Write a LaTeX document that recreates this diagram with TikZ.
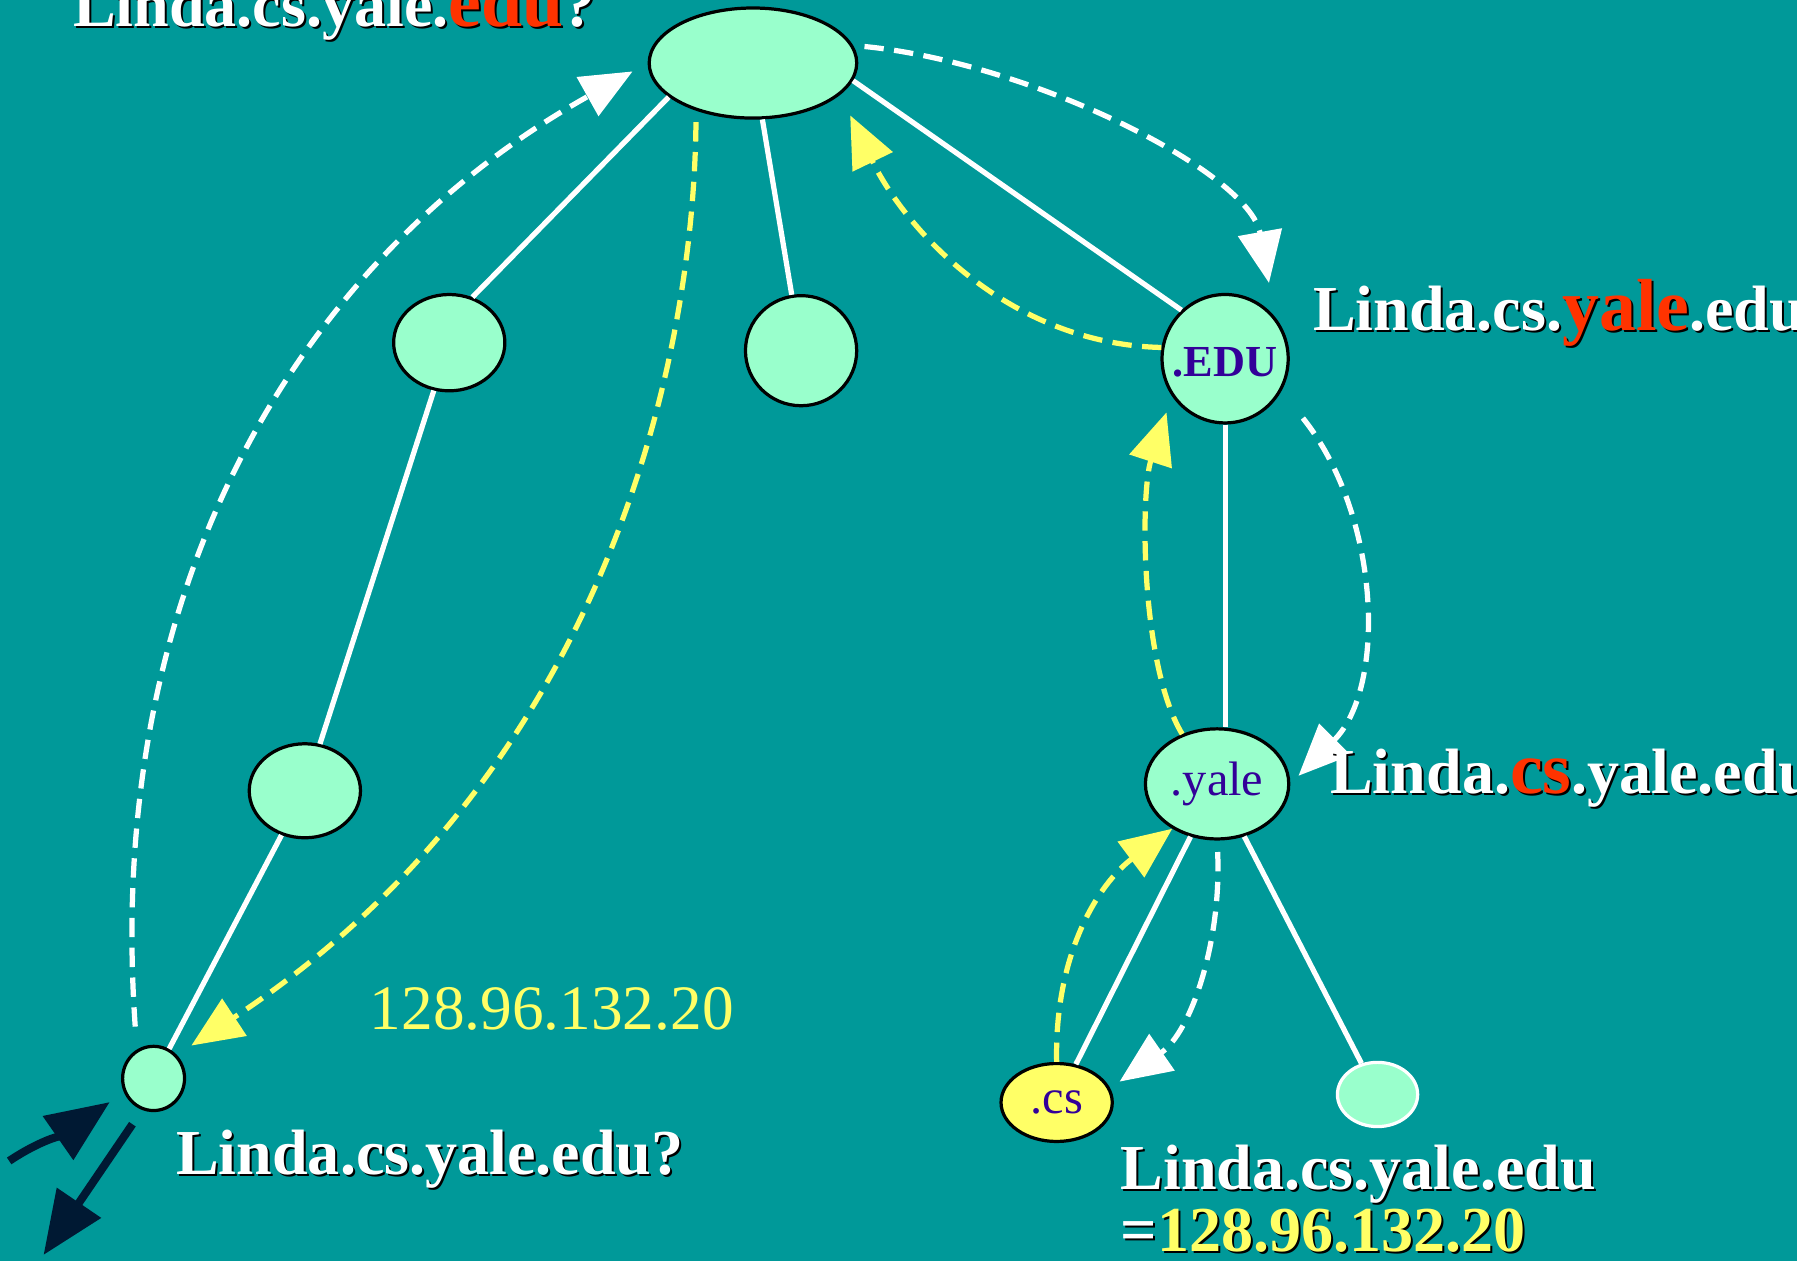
\documentclass[tikz,border=0pt]{standalone}
\usepackage{fontspec}
\setmainfont{Liberation Serif}
\usetikzlibrary{arrows.meta, positioning, shapes.geometric}
\definecolor{myTeal}{RGB}{0, 153, 153}
\definecolor{myMint}{RGB}{153, 255, 204}
\definecolor{myRed}{RGB}{255, 51, 0}
\definecolor{myYellow}{RGB}{255, 255, 102}
\definecolor{myPurple}{RGB}{51, 0, 153}
\definecolor{myNavy}{RGB}{0, 25, 51}
\newif\ifdarkcopy
\newcommand{\tint}[2]{{\ifdarkcopy\else\color{#1}\fi#2}}
\newcommand{\hilite}[2]{{\fontsize{18.3}{20}\selectfont\tint{#1}{#2}}}
\newcommand{\shadowlabel}[3]{%
  \node[lbl, text=black, xshift=0.5pt, yshift=-0.5pt] (#1-sh) at #2 {\darkcopytrue#3};
  \node[lbl] (#1) at #2 {#3};}

\begin{document}
\begin{tikzpicture}[
            x=0.01cm, y=-0.01cm,
            >={Triangle[length=4.5mm, width=3.8mm]},
            % Styles
            dnsnode/.style={
                ellipse, draw=black, line width=0.8pt, fill=myMint, inner sep=0pt, text=myPurple
            },
            branch/.style={draw=white, line width=1.3pt},
            query/.style={->, white, line width=1.3pt, dash pattern=on 4.8pt off 2.6pt},
            reply/.style={->, myYellow, line width=1.3pt, dash pattern=on 4.8pt off 2.6pt},
            user/.style={-{Triangle[length=5.5mm, width=4.5mm]}, myNavy, line width=2pt},
            lbl/.style={
                anchor=base west, inner sep=0pt, text=white, font=\fontsize{15.9}{18}\selectfont\bfseries
            }
        ]

            % --- Background ---
            \useasboundingbox (0,0) rectangle (1568,1100);
            \clip (0,0) rectangle (1568,1100);
            \fill[myTeal] (0,0) rectangle (1568,1100);

            % --- Name tree ---
            \node[dnsnode, minimum width=1.81cm, minimum height=0.96cm] (root) at (657,55) {};
            \node[dnsnode, minimum width=0.97cm, minimum height=0.84cm] (nodeA) at (392,299) {};
            \node[dnsnode, minimum width=0.97cm, minimum height=0.96cm] (nodeB) at (699,306) {};
            \node[dnsnode, minimum width=1.10cm, minimum height=1.12cm,
                  label={[text=myPurple, font=\fontsize{11}{12}\selectfont\bfseries, yshift=-1pt]center:.EDU}] (edu) at (1069,313) {};
            \node[dnsnode, minimum width=0.97cm, minimum height=0.82cm] (nodeC) at (266,690) {};
            \node[dnsnode, minimum width=0.54cm, minimum height=0.56cm] (host) at (134,941) {};
            \node[dnsnode, minimum width=1.25cm, minimum height=0.96cm,
                  font=\fontsize{12}{13}\selectfont] (yale) at (1062,684) {.yale};
            \node[dnsnode, fill=myYellow, minimum width=0.97cm, minimum height=0.68cm,
                  font=\fontsize{12}{13}\selectfont] (cs) at (922,962) {.cs};
            \node[dnsnode, draw=white, minimum width=0.70cm, minimum height=0.56cm] (nodeD) at (1202,955) {};

            \draw[branch] (root.-158) -- (nodeA.63);
            \draw[branch] (root) -- (nodeB);
            \draw[branch] (root.-10) -- (edu.132);
            \draw[branch] (nodeA) -- (nodeC);
            \draw[branch] (nodeC) -- (host);
            \draw[branch] (edu.south) -- (edu.south |- yale.north);
            \draw[branch] (yale) -- (cs);
            \draw[branch] (yale) -- (nodeD);

            % --- Queries (white) ---
            \draw[query, shorten <=2mm, shorten >=1.5mm] (host.120) .. controls (90,500) and (270,220) .. (root.west);
            \draw[query, shorten <=1mm, shorten >=3mm] (root.10) .. controls (900,55) and (1090,150) .. (edu.40);
            \draw[query, shorten <=3mm, shorten >=1mm] (edu.-30) .. controls (1205,450) and (1210,600) .. (yale.east);
            \draw[query, shorten <=1mm, shorten >=1mm] (yale.south) .. controls (1066,820) and (1040,900) .. (cs.15);

            % --- Replies (yellow) ---
            \draw[reply] (cs.north) .. controls (920,830) and (960,770) .. (yale.225);
            \draw[reply, shorten >=1.5mm] (yale.125) .. controls (995,580) and (995,430) .. (edu.215);
            \draw[reply, shorten >=2mm] (edu.170) .. controls (880,300) and (790,200) .. (root.-20);
            \draw[reply, shorten <=1mm, shorten >=1.5mm] (root.-140) .. controls (605,330) and (520,680) .. (host.45);

            % --- Client in / out ---
            \coordinate (inHand) at (8,1013);
            \coordinate (outHand) at (38,1095);
            \draw[user, shorten >=1.5mm] (inHand) .. controls (35,995) and (55,990) .. (host.205);
            \draw[user, shorten <=1.5mm] (host.-110) -- (outHand);

            % --- Labels ---
            \shadowlabel{askTop}{(63,23)}{Linda.cs.yale.\hilite{myRed}{edu}?}
            \shadowlabel{askEdu}{(1145,288)}{Linda.cs.\hilite{myRed}{yale}.edu}
            \shadowlabel{askYale}{(1160,692)}{Linda.\hilite{myRed}{cs}.yale.edu}
            \shadowlabel{askHost}{(153,1025)}{Linda.cs.yale.edu?}
            \shadowlabel{answer}{(977,1038)}{Linda.cs.yale.edu}
            \shadowlabel{answerIp}{(977,1092)}{=\tint{myYellow}{128.96.132.20}}
            \node[anchor=base west, inner sep=0pt, text=myYellow, font=\fontsize{15.7}{18}\selectfont] (ipReply) at (322,898) {128.96.132.20};

        \end{tikzpicture}
\end{document}
